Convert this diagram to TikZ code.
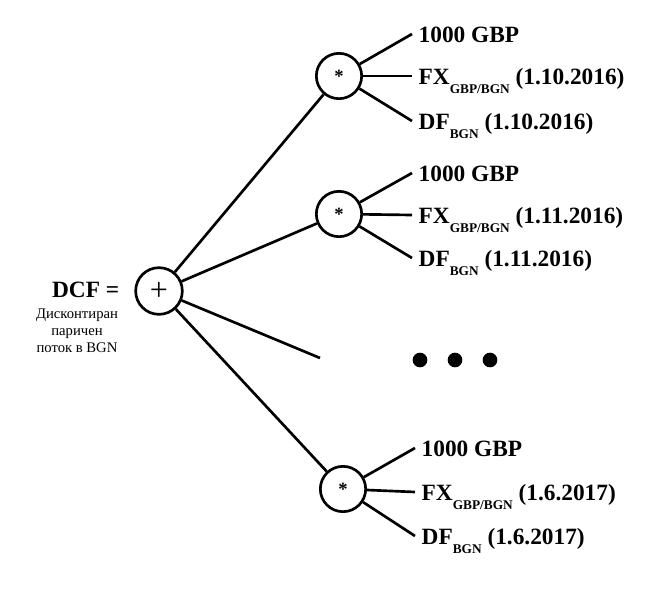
\documentclass[tikz,border=0pt]{standalone}
\usepackage{fontspec}
\setmainfont{Liberation Serif}
\usetikzlibrary{positioning,calc}
\newcommand{\lowidx}[1]{\raisebox{-0.4em}{\fontsize{10}{10}\selectfont #1}}

\begin{document}
\begin{tikzpicture}[x=0.75pt, y=-0.75pt, line width=2pt,
    opnode/.style={circle, draw, fill=white, inner sep=0pt},
    leaf/.style={anchor=west, inner xsep=4pt, inner ysep=0pt, text height=12pt, text depth=0pt,
                 font=\bfseries\fontsize{17.5}{20}\selectfont}]
\useasboundingbox (0,0) rectangle (657,593);

% Sum of the discounted flows
\node[opnode, minimum size=35pt, font=\fontsize{24}{24}\selectfont] (sum) at (159,291) {+};
\node[anchor=east, font=\bfseries\fontsize{17.5}{20}\selectfont] (dcf) at (125,290) {DCF =};
\node[align=center, font=\fontsize{11}{12.75}\selectfont] (caption) at (77,331) {Дисконтиран\\паричен\\поток в BGN};

% Products, one per payment date
\foreach \n/\x/\y/\date/\xe/\up/\mid/\dn in {1/339/76/1.10.2016/412/42/0/45,
                                          2/339/214/1.11.2016/412/41/1/44,
                                          3/343/489/1.6.2017/415/41/3/47} {
    \node[opnode, minimum size=34pt, font=\bfseries\fontsize{14}{14}\selectfont] (prod\n) at (\x,\y) {*};
    \draw (sum) -- (prod\n);
    \node[leaf] (amt\n) at (\xe,\y-\up) {1000 GBP};
    \node[leaf] (fx\n) at (\xe,\y+\mid) {FX\lowidx{GBP/BGN} (\date)};
    \node[leaf] (df\n) at (\xe,\y+\dn) {DF\lowidx{BGN} (\date)};
    \draw (prod\n) -- (amt\n.west);
    \draw (prod\n) -- (fx\n.west);
    \draw (prod\n) -- (df\n.west);
}

% Omitted dates
\coordinate (gap) at (320,358);
\draw (sum) -- (gap);
\foreach \i/\x in {1/420, 2/455, 3/490}
    \node[circle, fill=black, minimum size=11pt, inner sep=0pt] (dot\i) at (\x,360) {};

\end{tikzpicture}
\end{document}
